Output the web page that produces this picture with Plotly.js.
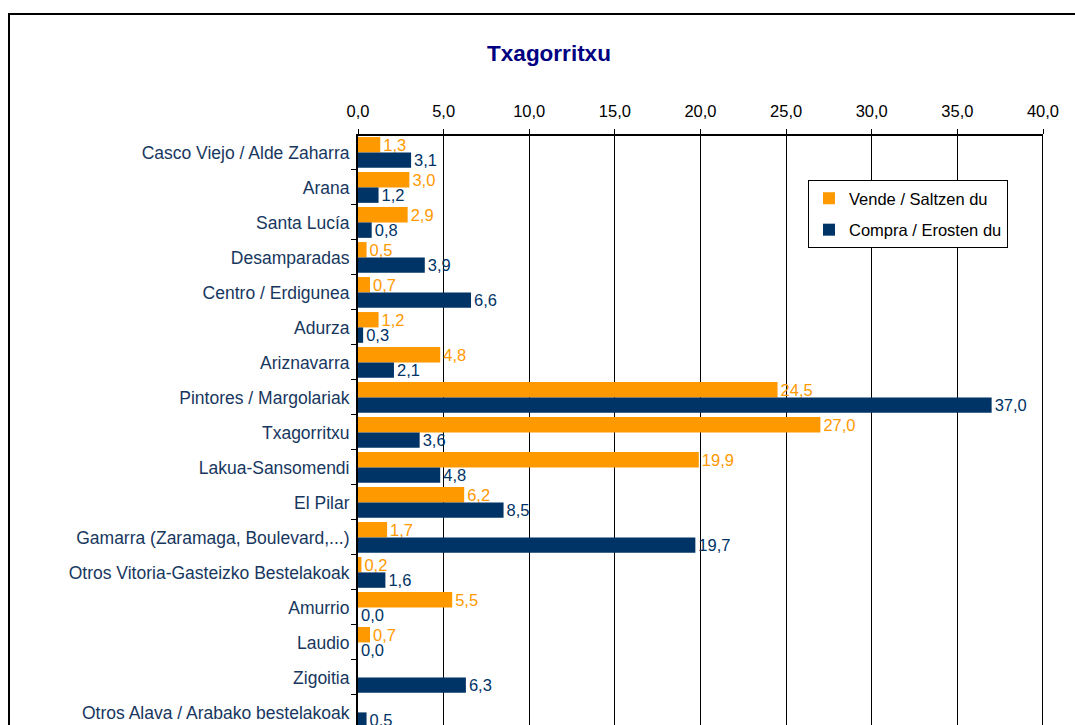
<!DOCTYPE html>
<html>
<head>
<meta charset="utf-8">
<script src="https://cdn.plot.ly/plotly-3.0.1.min.js"></script>
<style>
html,body{margin:0;padding:0;overflow:hidden;background:#fff;width:1075px;height:725px;}
#chart{position:absolute;left:0;top:0;width:1075px;height:725px;}
#frame{position:absolute;left:8px;top:13px;width:1200px;height:900px;border:2px solid #000;pointer-events:none;}
</style>
</head>
<body>
<div id="chart"></div>
<div id="frame"></div>
<script>
var categories = ["Casco Viejo / Alde Zaharra","Arana","Santa Lucía","Desamparadas","Centro / Erdigunea","Adurza","Ariznavarra","Pintores / Margolariak","Txagorritxu","Lakua-Sansomendi","El Pilar","Gamarra (Zaramaga, Boulevard,...)","Otros Vitoria-Gasteizko Bestelakoak","Amurrio","Laudio","Zigoitia","Otros Alava / Arabako bestelakoak"];
var vende = [1.3,3.0,2.9,0.5,0.7,1.2,4.8,24.5,27.0,19.9,6.2,1.7,0.2,5.5,0.7,null,null];
var compra = [3.1,1.2,0.8,3.9,6.6,0.3,2.1,37.0,3.6,4.8,8.5,19.7,1.6,0.0,0.0,6.3,0.5];
var seriesNames = ["Vende / Saltzen du","Compra / Erosten du"];
var xTicks = [0,5,10,15,20,25,30,35,40];

var ORANGE = "#FF9900", NAVY = "#003366";
var FONT = "Liberation Sans, Arial, sans-serif";

function fmt(v){ return v === null ? "" : v.toFixed(1).replace(".", ","); }

var traces = [
  {type:"bar", orientation:"h", name:seriesNames[0], legendgroup:"a", y:categories, x:vende,
   marker:{color:ORANGE}, text:vende.map(fmt), textposition:"outside",
   textfont:{color:ORANGE, size:16.5, family:FONT}, constraintext:"none", cliponaxis:false, hoverinfo:"x+y"},
  {type:"bar", orientation:"h", name:seriesNames[1], legendgroup:"b", y:categories, x:compra,
   marker:{color:NAVY}, text:compra.map(fmt), textposition:"outside",
   textfont:{color:NAVY, size:16.5, family:FONT}, constraintext:"none", cliponaxis:false, hoverinfo:"x+y"}
];

var layout = {
  width:1075, height:725,
  margin:{l:358, r:32, t:136, b:0, pad:0, autoexpand:false},
  paper_bgcolor:"#fff", plot_bgcolor:"#fff",
  font:{family:FONT, size:16.5, color:"#000"},
  title:{text:"<b>Txagorritxu</b>", font:{family:FONT, size:22.5, color:"#000080"},
         xref:"container", yref:"container", x:549/1075, y:1-53/725, xanchor:"center", yanchor:"middle"},
  barmode:"group", bargap:0.12, bargroupgap:0,
  xaxis:{side:"top", range:[0,40], tickvals:xTicks, ticktext:xTicks.map(fmt),
         showgrid:true, gridcolor:"#000", gridwidth:1, showline:true, linecolor:"#000", linewidth:2,
         ticks:"outside", ticklen:5, tickcolor:"#000", tickwidth:1, zeroline:false, ticklabelstandoff:5,
         tickfont:{family:FONT, size:16.5, color:"#000"}, fixedrange:true, automargin:false},
  yaxis:{type:"category", range:[16.36,-0.47], showline:true, linecolor:"#000", linewidth:2,
         ticks:"outside", tickson:"boundaries", ticklen:5, tickcolor:"#000", tickwidth:1,
         showgrid:false, zeroline:false, ticklabelstandoff:3,
         tickfont:{family:FONT, size:17.5, color:"#17375E"}, fixedrange:true, automargin:false},
  legend:{x:(1008-358)/685, y:(725-180)/589, xanchor:"right", yanchor:"top",
          bordercolor:"#000", borderwidth:1, bgcolor:"#fff", traceorder:"grouped",
          font:{family:FONT, size:16.5, color:"#000"}, itemwidth:30, tracegroupgap:7},
  shapes:[{type:"line", xref:"x", yref:"paper", x0:40, x1:40, y0:0, y1:1, line:{color:"#000", width:2}}],
  showlegend:true
};

Plotly.newPlot("chart", traces, layout, {displayModeBar:false, staticPlot:true});
</script>
</body>
</html>
